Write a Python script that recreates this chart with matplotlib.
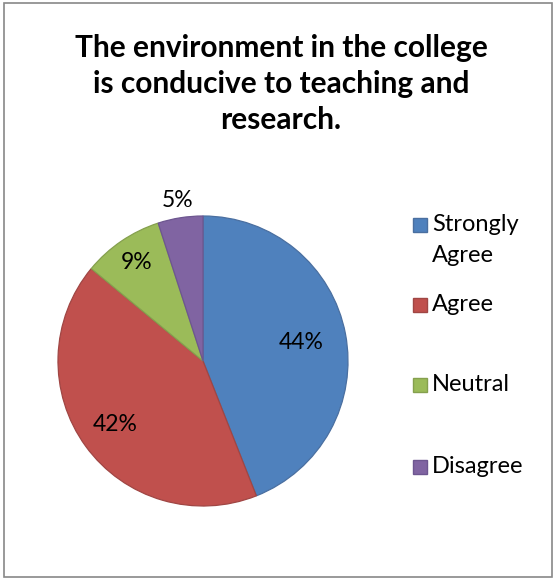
import matplotlib
matplotlib.use("Agg")
import matplotlib.pyplot as plt
from matplotlib.patches import Rectangle
import numpy as np

categories = ["Strongly\nAgree", "Agree", "Neutral", "Disagree"]
values = [44, 42, 9, 5]
colors = ["#4F81BD", "#C0504D", "#9BBB59", "#8064A2"]
edges = ["#4A6FA0", "#A04644", "#85A04E", "#6D5690"]
title = "The environment in the college\nis conducive to teaching and\nresearch."

plt.rcParams['font.family'] = ['Lato', 'DejaVu Sans']

W, H = 555, 579
fig = plt.figure(figsize=(W / 100, H / 100), dpi=100)

# figure border
fig.patches.append(Rectangle((4 / W, 2 / H), 548 / W, 574 / H, transform=fig.transFigure,
                             fill=False, edgecolor="#888888", linewidth=1.2))

cx, cy, R = 203, 361, 145
ax = fig.add_axes([(cx - R) / W, (H - cy - R) / H, 2 * R / W, 2 * R / H])
wedges, texts, autotexts = ax.pie(values, colors=colors, startangle=90, counterclock=False,
                                  autopct="%d%%", pctdistance=0.7, radius=1,
                                  wedgeprops=dict(linewidth=0.9),
                                  textprops=dict(fontsize=16.5, color="black"))
for w, ec in zip(wedges, edges):
    w.set_edgecolor(ec)
ax.set_xlim(-1, 1)
ax.set_ylim(-1, 1)
ax.set_aspect("equal")

dist = [0.69, 0.75, 0.82, 1.12]
for w, t, d in zip(wedges, autotexts, dist):
    ang = np.deg2rad((w.theta1 + w.theta2) / 2)
    t.set_position((d * np.cos(ang), d * np.sin(ang)))
    t.set_ha("center")
    t.set_va("center")

fig.text(281 / W, 1 - 84 / H, title, ha="center", va="center", fontsize=21.5,
         fontweight="bold", linespacing=1.33)

# legend
leg_y = [225, 305, 385, 467]
for lab, col, ec, y in zip(categories, colors, edges, leg_y):
    fig.patches.append(Rectangle((413 / W, 1 - (y + 7) / H), 14 / W, 14 / H,
                                 transform=fig.transFigure, facecolor=col, edgecolor=ec, linewidth=1))
    fig.text(432 / W, 1 - (y - 11) / H, lab, ha="left", va="top", fontsize=17, linespacing=1.6)

fig.savefig("out.png", dpi=100)
